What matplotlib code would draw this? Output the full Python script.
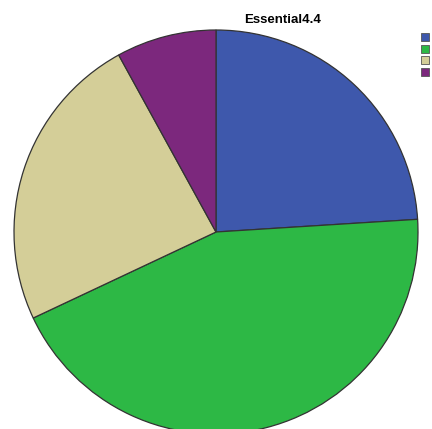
import matplotlib.pyplot as plt
from matplotlib.patches import Rectangle

# slice counts (read as 24%, 44%, 24%, 8%)
categories = ['1', '2', '3', '4']
counts = [6, 11, 6, 2]
colors = ['#3E58AC', '#2DB845', '#D4CE98', '#7C287D']
title = 'Essential4.4'

W, H = 432, 429
fig = plt.figure(figsize=(W / 100, H / 100), dpi=100)
fig.patch.set_facecolor('white')

# pie centre ~ (216, 232) px, radius ~ 202 px
cx, cy, r = 216, 232, 202
ax = fig.add_axes([(cx - r) / W, (H - cy - r) / H, 2 * r / W, 2 * r / H])
ax.pie(counts, colors=colors, startangle=90, counterclock=False, radius=1,
       wedgeprops=dict(edgecolor='#333333', linewidth=0.9))
ax.set_xlim(-1, 1)
ax.set_ylim(-1, 1)
ax.set_aspect('auto')
ax.axis('off')

fig.text(283 / W, 1 - 20 / H, title, ha='center', va='center',
         fontsize=9.5, fontweight='bold', family='Liberation Sans')

# legend swatches (labels are cut off at the right edge)
for i, c in enumerate(colors):
    y0 = 33 + i * 11.7
    fig.patches.append(Rectangle((421 / W, 1 - (y0 + 8) / H), 8 / W, 8 / H,
                                 transform=fig.transFigure, facecolor=c,
                                 edgecolor='#555555', linewidth=0.6))

fig.savefig('out.png', dpi=100)
